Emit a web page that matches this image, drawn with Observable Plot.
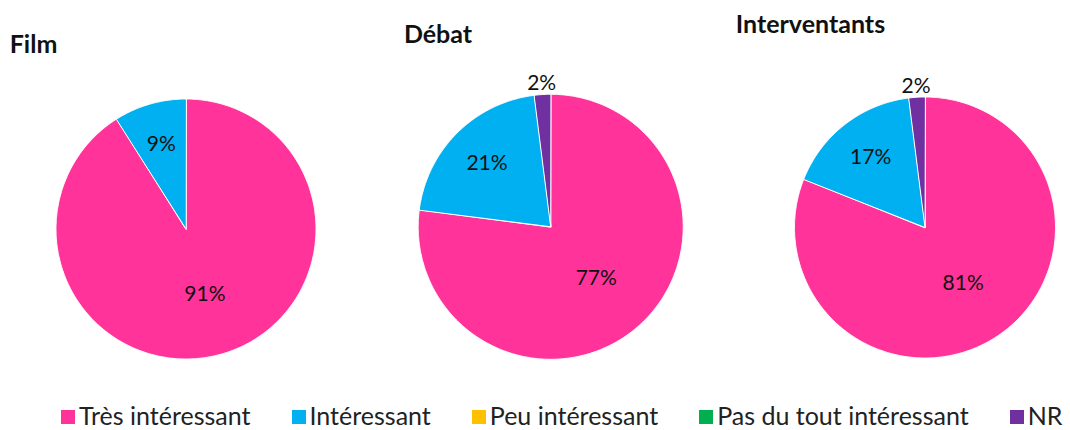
<!DOCTYPE html>
<html>
<head>
<meta charset="utf-8">
<script src="https://cdn.jsdelivr.net/npm/d3@7"></script>
<script src="https://cdn.jsdelivr.net/npm/@observablehq/plot@0.6"></script>
<style>
  html, body { margin: 0; padding: 0; background: #fff; }
  body { width: 1070px; height: 430px; overflow: hidden; font-family: Lato, "Open Sans", sans-serif; }
  #chart svg { display: block; }
  #legend { display: flex; align-items: center; padding-left: 61px; padding-top: 4px; height: 30px; gap: 41px; line-height: 1; }
  #legend .item { display: flex; align-items: center; font-size: 25px; line-height: 1; color: #222; white-space: nowrap; }
  #legend .sw { width: 14px; height: 14px; margin-right: 4px; margin-top: 3px; }
</style>
</head>
<body>
<div id="chart"></div>
<div id="legend"></div>
<script>
// ---- data ----
const categories = ["Très intéressant", "Intéressant", "Peu intéressant", "Pas du tout intéressant", "NR"];
const colors = ["#FF3399", "#00B0F0", "#FFC000", "#00B050", "#7030A0"];
const questions = ["Film", "Débat", "Interventants"];
const filmValues = [91, 9, 0, 0, 0];
const debatValues = [77, 21, 0, 0, 2];
const interventantsValues = [81, 17, 0, 0, 2];

// ---- layout ----
const W = 1070, H = 396;
const pieCenters = [[185.5, 228.5], [550.2, 226.3], [924.5, 227]];
const pieRadii = [130, 132.5, 130.5];
const titlePos = [[33, 44], [437.5, 34], [810, 24]];

const series = [filmValues, debatValues, interventantsValues];

const vertices = [];
const labels = [];
series.forEach((vals, qi) => {
  const total = d3.sum(vals);
  const [cx, cy] = pieCenters[qi];
  const r = pieRadii[qi];
  let cum = 0;
  vals.forEach((v, ci) => {
    if (v <= 0) return;
    const a0 = (cum / total) * 2 * Math.PI;
    const a1 = ((cum + v) / total) * 2 * Math.PI;
    cum += v;
    const id = questions[qi] + "|" + categories[ci];
    vertices.push({id, cat: categories[ci], x: cx, y: cy});
    const steps = Math.max(2, Math.ceil((a1 - a0) / (Math.PI / 360)));
    for (let k = 0; k <= steps; k++) {
      const a = a0 + (a1 - a0) * k / steps;
      vertices.push({id, cat: categories[ci], x: cx + r * Math.sin(a), y: cy - r * Math.cos(a)});
    }
    const p = v / total;
    const am = (a0 + a1) / 2;
    const lr = p >= 0.5 ? 0.52 * r : p < 0.05 ? r + 11 : 0.68 * r;
    labels.push({x: cx + lr * Math.sin(am), y: cy - lr * Math.cos(am), text: v + "%"});
  });
});

const titles = questions.map((q, i) => ({x: titlePos[i][0], y: titlePos[i][1], text: q}));

const chart = Plot.plot({
  width: W,
  height: H,
  margin: 0,
  x: {domain: [0, W], range: [0, W], axis: null},
  y: {domain: [0, H], range: [0, H], axis: null},
  color: {domain: categories, range: colors},
  style: {fontFamily: "Lato, 'Open Sans', sans-serif", background: "white", overflow: "visible"},
  marks: [
    Plot.line(vertices, {x: "x", y: "y", z: "id", fill: "cat", stroke: "white", strokeWidth: 1, curve: "linear-closed"}),
    Plot.text(labels, {x: "x", y: "y", text: "text", fontSize: 21, fill: "#111"}),
    Plot.text(titles, {x: "x", y: "y", text: "text", fontSize: 25, fontWeight: "bold", fill: "#111"})
  ]
});
document.getElementById("chart").appendChild(chart);

const legend = document.getElementById("legend");
categories.forEach((c, i) => {
  const item = document.createElement("div");
  item.className = "item";
  const sw = document.createElement("span");
  sw.className = "sw";
  sw.style.background = colors[i];
  item.appendChild(sw);
  item.appendChild(document.createTextNode(c));
  legend.appendChild(item);
});
</script>
</body>
</html>
